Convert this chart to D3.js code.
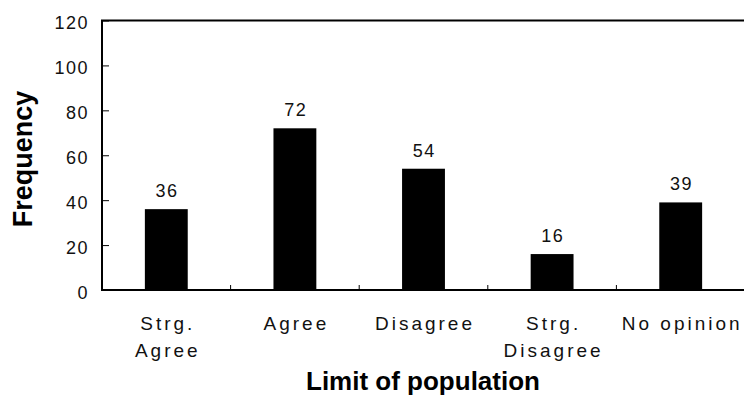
<!DOCTYPE html>
<html>
<head>
<meta charset="utf-8">
<script src="https://cdn.jsdelivr.net/npm/d3@7"></script>
<style>
  html, body { margin: 0; padding: 0; background: #fff; }
  svg { display: block; }
</style>
</head>
<body>
<svg id="chart" width="744" height="402"></svg>
<script>
const categories = [["Strg.", "Agree"], ["Agree"], ["Disagree"], ["Strg.", "Disagree"], ["No opinion"]];
const values = [36, 72, 54, 16, 39];
const yTicks = [0, 20, 40, 60, 80, 100, 120];
const xTitle = "Limit of population";
const yTitle = "Frequency";

const W = 744, H = 402;
const margin = { left: 102, right: -1, top: 20.5, bottom: 112 };
const svg = d3.select("#chart");
const keys = categories.map((c, i) => i);

const x = d3.scaleBand().domain(keys).range([margin.left, W - margin.right]).paddingInner(0).paddingOuter(0);
const y = d3.scaleLinear().domain([0, 120]).range([H - margin.bottom, margin.top]);

const tickFont = "'Liberation Sans', Arial, sans-serif";

// bars
svg.append("g").selectAll("rect").data(values).join("rect")
  .attr("x", (d, i) => x(i) + x.bandwidth() / 3)
  .attr("width", x.bandwidth() / 3)
  .attr("y", d => y(d))
  .attr("height", d => y(0) - y(d))
  .attr("fill", "#000");

// value labels
svg.append("g").selectAll("text").data(values).join("text")
  .attr("x", (d, i) => x(i) + x.bandwidth() / 2 + 0.75)
  .attr("y", d => y(d) - 12)
  .attr("text-anchor", "middle")
  .attr("font-family", tickFont)
  .attr("font-size", 18)
  .attr("letter-spacing", 1.5)
  .attr("fill", "#111")
  .text(d => d);

// y axis
const yAxis = svg.append("g")
  .attr("transform", `translate(${margin.left},0)`)
  .call(d3.axisRight(y).tickValues(yTicks).tickSize(7).tickFormat(d3.format("d")));
yAxis.select(".domain").remove();
yAxis.selectAll("line").attr("stroke", "#000").attr("stroke-width", 1);
yAxis.selectAll("text")
  .attr("x", -13)
  .attr("dy", "0.45em")
  .attr("text-anchor", "end")
  .attr("font-family", tickFont)
  .attr("font-size", 18)
  .attr("letter-spacing", 1.5)
  .attr("fill", "#111");

// left axis line
svg.append("line")
  .attr("x1", margin.left).attr("x2", margin.left)
  .attr("y1", y(120)).attr("y2", y(0))
  .attr("stroke", "#000").attr("stroke-width", 2);
// top line
svg.append("line")
  .attr("x1", margin.left - 1).attr("x2", W)
  .attr("y1", y(120)).attr("y2", y(120))
  .attr("stroke", "#000").attr("stroke-width", 2);
// bottom axis line
svg.append("line")
  .attr("x1", margin.left - 1).attr("x2", W)
  .attr("y1", y(0)).attr("y2", y(0))
  .attr("stroke", "#000").attr("stroke-width", 2);

// category separator ticks
svg.append("g").selectAll("line").data(keys.slice(1)).join("line")
  .attr("x1", d => x(d)).attr("x2", d => x(d))
  .attr("y1", y(0)).attr("y2", y(0) - 5)
  .attr("stroke", "#000").attr("stroke-width", 1);

// category labels
const cat = svg.append("g").selectAll("text").data(categories).join("text")
  .attr("x", (d, i) => x(i) + x.bandwidth() / 2)
  .attr("y", y(0) + 40)
  .attr("text-anchor", "middle")
  .attr("font-family", tickFont)
  .attr("font-size", 19)
  .attr("letter-spacing", 3)
  .attr("fill", "#111");
cat.each(function(d, i) {
  const t = d3.select(this);
  d.forEach((line, j) => {
    t.append("tspan")
      .attr("x", x(i) + x.bandwidth() / 2 + 1.5)
      .attr("dy", j === 0 ? 0 : 27)
      .text(line);
  });
});

// axis titles
svg.append("text")
  .attr("x", (margin.left + W) / 2).attr("y", 390)
  .attr("text-anchor", "middle")
  .attr("font-family", tickFont)
  .attr("font-weight", "bold")
  .attr("font-size", 26)
  .attr("fill", "#000")
  .text(xTitle);

svg.append("text")
  .attr("transform", `translate(32,159) rotate(-90)`)
  .attr("text-anchor", "middle")
  .attr("font-family", tickFont)
  .attr("font-weight", "bold")
  .attr("font-size", 27)
  .attr("fill", "#000")
  .text(yTitle);
</script>
</body>
</html>
